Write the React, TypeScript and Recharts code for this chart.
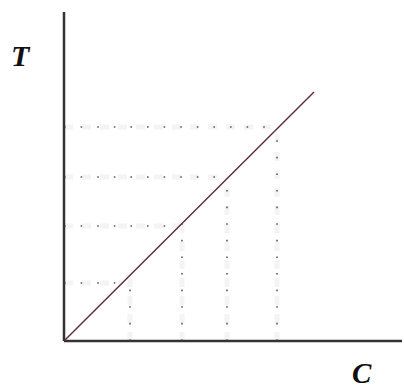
import React from "react";
import { LineChart, Line, XAxis, YAxis, ReferenceLine } from "recharts";

// Diagonal line (data units)
const diagonal = [
  { x: 0, y: 0 },
  { x: 5.0, y: 4.98 },
];
// Dotted projection lines
const verticalXs = [1.32, 2.36, 3.26, 4.26];
const horizontalYs = [1.16, 2.3, 3.28, 4.28];
const axisLabels = { x: "C", y: "T" };

const X_MAX = 6.76;
const Y_MAX = 6.58;

const dotStyle = { stroke: "#5a5a5a", strokeWidth: 1.6, strokeDasharray: "1.6 15" };
const haloStyle = { stroke: "#f4f4f4", strokeWidth: 5, strokeDasharray: "9 9" };

export default function App() {
  return (
    <div style={{ position: "absolute", left: 0, top: 0, width: 404, height: 390, background: "#fff" }}>
      <LineChart
        width={404}
        height={390}
        data={diagonal}
        margin={{ top: 12, right: 2, bottom: 49, left: 64 }}
      >
        <XAxis type="number" dataKey="x" domain={[0, X_MAX]} hide />
        <YAxis type="number" domain={[0, Y_MAX]} hide />
        {verticalXs.map((v) => (
          <ReferenceLine
            key={"vh" + v}
            segment={[{ x: v, y: 0 }, { x: v, y: v }]}
            {...haloStyle}
          />
        ))}
        {horizontalYs.map((h) => (
          <ReferenceLine
            key={"hh" + h}
            segment={[{ x: 0, y: h }, { x: h, y: h }]}
            {...haloStyle}
          />
        ))}
        {verticalXs.map((v) => (
          <ReferenceLine
            key={"v" + v}
            segment={[{ x: v, y: 0 }, { x: v, y: v }]}
            {...dotStyle}
          />
        ))}
        {horizontalYs.map((h) => (
          <ReferenceLine
            key={"h" + h}
            segment={[{ x: 0, y: h }, { x: h, y: h }]}
            {...dotStyle}
          />
        ))}
        <ReferenceLine x={0} stroke="#333" strokeWidth={2.5} />
        <ReferenceLine y={0} stroke="#333" strokeWidth={2.5} />
        <Line
          type="linear"
          dataKey="y"
          stroke="#5e2a3a"
          strokeWidth={1.4}
          dot={false}
          isAnimationActive={false}
        />
      </LineChart>
      <svg
        width={404}
        height={390}
        style={{ position: "absolute", left: 0, top: 0, pointerEvents: "none" }}
      >
        <text x={11} y={66} fontFamily="Liberation Serif" fontWeight="bold" fontStyle="italic" fontSize={30} fill="#111">
          {axisLabels.y}
        </text>
        <text x={352} y={383} fontFamily="Liberation Serif" fontWeight="bold" fontStyle="italic" fontSize={29} fill="#111">
          {axisLabels.x}
        </text>
      </svg>
    </div>
  );
}
